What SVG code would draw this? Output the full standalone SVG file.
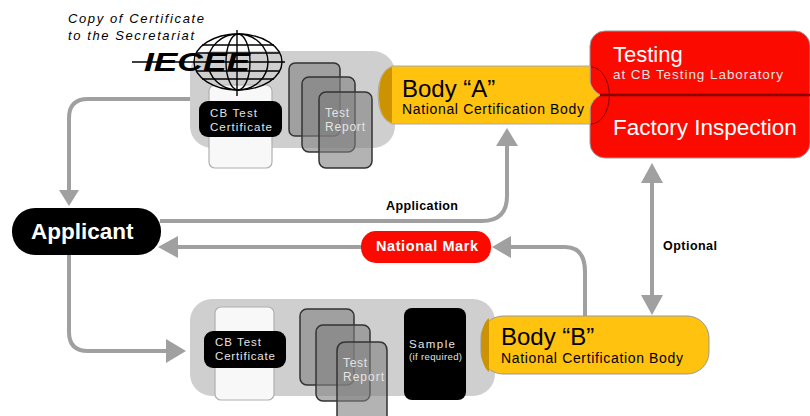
<svg xmlns="http://www.w3.org/2000/svg" width="810" height="416" viewBox="0 0 810 416">
<style>
text{font-family:"Liberation Sans",Arial,sans-serif}
.conn{fill:none;stroke:#a0a0a0;stroke-width:4}
.head{fill:#a0a0a0}
.panel{fill:#cfcfcf}
.cert{fill:#f8f8f8;stroke:#b0b0b0;stroke-width:1.2}
.pill{fill:#000}
.card{fill:#808080;fill-opacity:.6;stroke:#333;stroke-width:1.5}
.w{fill:#fff}
.lw{fill:#e4e4e4}
.k{fill:#000}
.b{font-weight:bold}
.globe{fill:none;stroke:#000;stroke-width:1.4}
</style>
<g id="connectors">
<path class="conn" d="M190 99H88Q69 99 69 118V192"/>
<path class="head" d="M59 190H79L69 206Z"/>
<path class="conn" d="M69 255V332Q69 351 88 351H168"/>
<path class="head" d="M166 339L186 351L166 363Z"/>
<path class="conn" d="M160 221H482Q507 221 507 196V146"/>
<path class="head" d="M496 146L507 128L518 146Z"/>
<path class="conn" d="M361 247H176"/>
<path class="head" d="M178 236V258L158 247Z"/>
<path class="conn" d="M585 316V272Q585 247 565 247H508"/>
<path class="head" d="M511 236V258L492 247Z"/>
<path class="conn" d="M652 180V298"/>
<path class="head" d="M641 183L652 163L663 183Z"/>
<path class="head" d="M641 295H663L652 315Z"/>
</g>
<g id="panel-top"><rect class="panel" x="190" y="51" width="205" height="97" rx="22"/></g>
<g id="cert-top">
<rect class="cert" x="209" y="85" width="63" height="83" rx="6"/>
<rect class="pill" x="199" y="101" width="83" height="36" rx="9"/>
<text class="lw" x="210" y="117" font-size="11.5" textLength="47">CB Test</text>
<text class="lw" x="210" y="131" font-size="11.5" textLength="62">Certificate</text>
</g>
<g id="report-top">
<rect class="card" x="289" y="63" width="51" height="73" rx="6"/>
<rect class="card" x="302" y="77" width="53" height="75" rx="7"/>
<rect class="card" x="319" y="92" width="53" height="76" rx="7"/>
<text class="lw" x="325" y="117" font-size="12" textLength="24">Test</text>
<text class="lw" x="325" y="131" font-size="12" textLength="40">Report</text>
</g>
<g id="logo">
<ellipse class="globe" cx="238" cy="62" rx="44" ry="28"/>
<ellipse class="globe" cx="238" cy="62" rx="30" ry="28"/>
<ellipse class="globe" cx="238" cy="62" rx="12" ry="28"/>
<path class="globe" d="M237 30V96M132 62H285M202 45H274M197 53H279M197 71H279M202 79H274"/>
<text class="k b" x="144" y="71" font-size="25" font-style="italic" textLength="106" lengthAdjust="spacingAndGlyphs">IECEE</text>
</g>
<g id="secretariat-note">
<text class="k" x="68" y="23" font-size="13" font-style="italic" textLength="136">Copy of Certificate</text>
<text class="k" x="68" y="40" font-size="13" font-style="italic" textLength="126">to the Secretariat</text>
</g>
<g id="testing">
<rect x="590" y="31" width="220" height="127" rx="15" fill="#fb0a00" stroke="#999" stroke-width="1"/>
<path d="M600 95H810" stroke="#800" stroke-width="2.5"/>
<text class="w" x="613" y="62" font-size="22">Testing</text>
<text class="lw" x="613" y="79" font-size="13.5" textLength="170">at CB Testing Laboratory</text>
<text class="w" x="613" y="135" font-size="22.5">Factory Inspection</text>
</g>
<g id="body-a">
<path d="M392 66H590V82Q592 90 600 95Q592 100 590 108V124H392Q378 118 378 95Q378 72 392 66Z" fill="#ffc20e" stroke="#aaa" stroke-width="1"/>
<path d="M392 67V123Q379 118 379 95Q379 72 392 67Z" fill="#cc9200"/>
<path d="M591 67A18 28 0 0 1 591 124" fill="none" stroke="#800" stroke-width="1"/>
<text class="k" x="402" y="97" font-size="24">Body “A”</text>
<text class="k" x="402" y="114" font-size="14" textLength="182">National Certification Body</text>
</g>
<g id="applicant">
<rect x="12" y="208" width="149" height="47" rx="23" fill="#000"/>
<text class="w b" x="31" y="239" font-size="22.5">Applicant</text>
</g>
<g id="national-mark">
<rect x="361" y="231" width="130" height="32" rx="15" fill="#fb0a00"/>
<text class="w b" x="376" y="251" font-size="14.5" textLength="102">National Mark</text>
</g>
<g id="labels">
<text class="k b" x="386" y="210" font-size="12.5" textLength="72">Application</text>
<text class="k b" x="663" y="250" font-size="12.5" textLength="54">Optional</text>
</g>
<g id="panel-bottom"><rect class="panel" x="190" y="299" width="305" height="97" rx="22"/></g>
<g id="cert-bottom">
<rect class="cert" x="215" y="307" width="59" height="93" rx="6"/>
<rect class="pill" x="204" y="331" width="82" height="37" rx="9"/>
<text class="lw" x="215" y="346" font-size="11.5" textLength="46">CB Test</text>
<text class="lw" x="215" y="360" font-size="11.5" textLength="60">Certificate</text>
</g>
<g id="report-bottom">
<rect class="card" x="300" y="309" width="54" height="76" rx="7"/>
<rect class="card" x="316" y="325" width="54" height="76" rx="7"/>
<path class="card" d="M337 416V351Q337 342 346 342H379Q387 342 387 351V416"/>
<text class="lw" x="343" y="367" font-size="12" textLength="24">Test</text>
<text class="lw" x="343" y="381" font-size="12" textLength="41">Report</text>
</g>
<g id="sample">
<rect x="404" y="308" width="62" height="92" rx="8" fill="#000"/>
<text class="lw" x="409" y="348" font-size="11.5" textLength="46">Sample</text>
<text class="lw" x="409" y="360" font-size="9.5" textLength="53">(if required)</text>
</g>
<g id="body-b">
<rect x="481" y="316" width="228" height="58" rx="22" fill="#ffc20e" stroke="#999" stroke-width="1"/>
<path d="M489 318V372Q481 366 481 345Q481 324 489 318Z" fill="#cc9200"/>
<text class="k" x="501" y="345" font-size="24">Body “B”</text>
<text class="k" x="501" y="363" font-size="14" textLength="182">National Certification Body</text>
</g>
</svg>
